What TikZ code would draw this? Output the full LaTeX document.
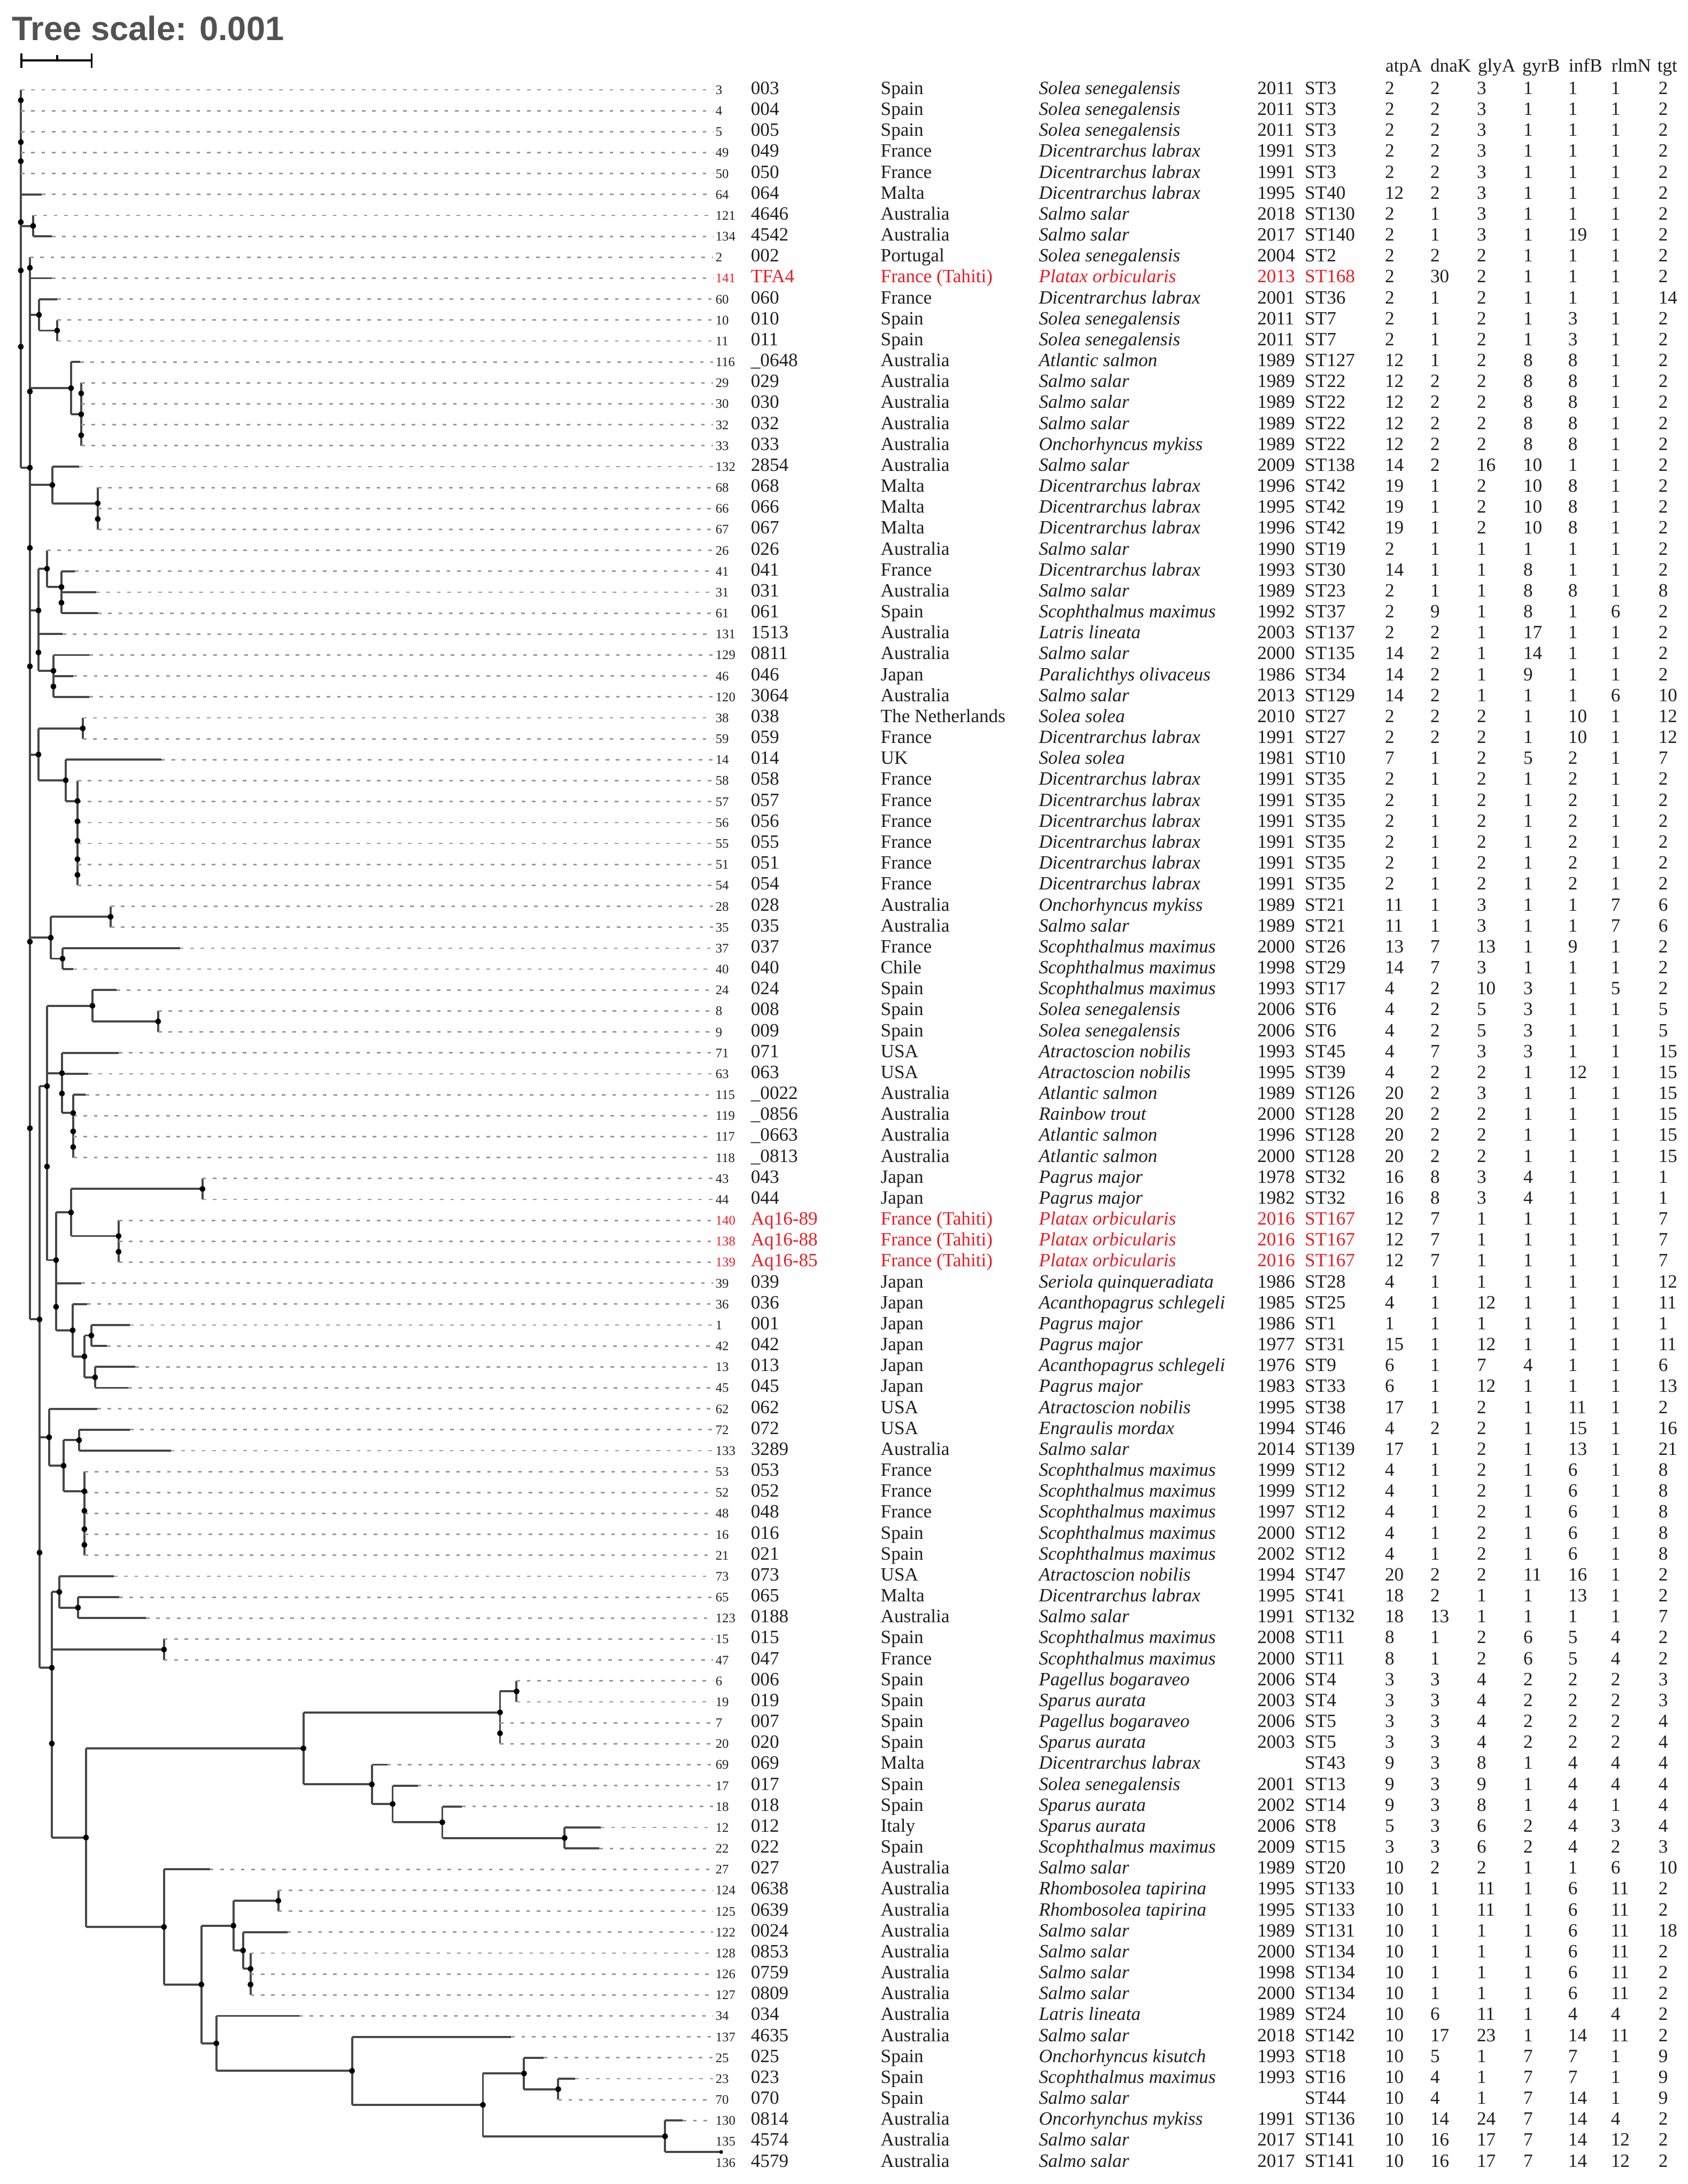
\documentclass[tikz,border=0pt]{standalone}
\usepackage{fontspec}
\setmainfont{Liberation Serif}
\newfontfamily\titlefont{Liberation Sans}
\definecolor{ck}{gray}{0.12}
\definecolor{cr}{RGB}{235,28,36}
\tikzset{
  br/.style={draw=black!72, line width=1.1pt},
  brv/.style={draw=black!72, line width=1.1pt, line cap=square},
  dsh/.style={draw=black!40, line width=0.8pt, dash pattern=on 1.9pt off 3.6pt},
  tiplab/.style={anchor=base west, inner sep=0pt, font=\fontsize{7}{8}\selectfont},
  cell/.style={anchor=base west, inner sep=0pt, font=\fontsize{10}{12}\selectfont},
  sbar/.style={draw=black, line width=0.9pt},
}
\begin{document}
\begin{tikzpicture}[x=0.01cm, y=-0.3917cm]
\useasboundingbox (0,-3.289) rectangle (3159,101.03);

% title and scale bar
\node[anchor=base west, inner sep=0pt, text=black!68, font=\titlefont\bfseries\fontsize{18}{20}\selectfont] (title) at (22,-1.374) {Tree scale: 0.001};
\coordinate (sbL) at (40,-0.404);
\coordinate (sbR) at (172,-0.404);
\draw[sbar] (sbL) -- (sbR);
\draw[sbar] (40,-0.736) -- (40,-0.047);
\draw[sbar] (172,-0.736) -- (172,-0.047);
\draw[sbar] (107,-0.66) -- (sbL -| 107,0);

% vertical lines of internal nodes
\foreach \x/\a/\b in {39/1/19.05, 56/9/59.73, 62/7/8, 73/11/12.5, 107/12/13, 133/14/16.5, 152/15/18, 98/19/20.75, 183/20/22, 72/23.875/28.75, 88/23/24.75, 115/24/26, 100/28/30, 72/31.5/33.98, 155/31/32, 123/33/34.97, 145/34/39, 95/40.5/42.5, 207/40/41, 117/42/43, 88/44.75/56.9, 173/44/45.5, 296/45/46, 116/47/49.875, 137/49/52, 74/48.59/76.37, 105/54.625/60.25, 133/53.5/55.75, 379/53/54, 222/55/57, 136/59/61.5, 158/60.5/62.5, 171/60/61, 178/62/63, 92/64/66.72, 119/65.5/67.94, 148/65/66, 158/67/71, 97/72.75/84.48, 111/72/73.5, 146/73/74, 307/75/76, 161/80.22/88.75, 568/78.5/81.94, 936/77.5/80, 967/77/78, 696/81/82.875, 735/82/83.75, 828/83/84.5, 1057/84/85, 307/86/91.5, 377/88.69/94.31, 437/87.5/89.875, 521/87/88, 455/89/90.75, 469/90/92, 405/93/95.625, 659/94/97.25, 904/95.75/98.75, 981/95/96.5, 1045/96/97, 1245/98/99.5}
  {\draw[brv] (\x,\a) -- (\x,\b);}

% horizontal lines to internal nodes
\foreach \r/\a/\b in {7.5/39/62, 11.75/56/73, 12.5/73/107, 15.25/56/133, 16.5/133/152, 19.05/39/56, 19.875/56/98, 20.75/98/183, 23.875/72/88, 24.75/88/115, 25.87/56/72, 28.75/72/100, 31.5/72/155, 32.75/56/72, 33.98/72/123, 34.97/123/145, 41.5/56/95, 40.5/95/207, 42.5/95/117, 44.75/88/173, 45.5/173/296, 47.97/88/116, 49.875/116/137, 48.59/74/88, 59.73/56/74, 56.9/88/105, 54.625/105/133, 53.5/133/379, 55.75/133/222, 60.25/105/136, 61.5/136/158, 60.5/158/171, 62.5/158/178, 65.36/74/92, 66.72/92/119, 65.5/119/148, 67.94/119/158, 76.37/74/97, 72.75/97/111, 73.5/111/146, 75.5/97/307, 84.48/97/161, 80.22/161/568, 78.5/568/936, 77.5/936/967, 81.94/568/696, 82.875/696/735, 83.75/735/828, 84.5/828/1057, 88.75/161/307, 91.5/307/377, 88.69/377/437, 87.5/437/521, 89.875/437/455, 90.75/455/469, 94.31/377/405, 95.625/405/659, 97.25/659/904, 95.75/904/981, 96.5/981/1045, 98.75/904/1245, 99.5/1245/1350}
  {\draw[br] (\a,\r) -- (\b,\r);}

% leaves: solid branch then dashed guide line
\foreach \rw/\px/\ex in {1/39/39, 2/39/39, 3/39/39, 4/39/39, 5/39/39, 6/39/78, 7/62/62, 8/62/97, 9/56/56, 10/56/97, 11/73/107, 12/107/107, 13/107/107, 14/133/150, 15/152/152, 16/152/152, 17/152/152, 18/152/152, 19/98/148, 20/183/183, 21/183/183, 22/183/183, 23/88/88, 24/115/140, 25/115/180, 26/115/183, 27/72/117, 28/100/167, 29/100/137, 30/100/167, 31/155/155, 32/155/155, 33/123/302, 34/145/145, 35/145/145, 36/145/145, 37/145/145, 38/145/145, 39/145/145, 40/207/207, 41/207/207, 42/117/337, 43/117/137, 44/173/218, 45/296/296, 46/296/296, 47/116/222, 48/116/165, 49/137/160, 50/137/137, 51/137/137, 52/137/137, 53/379/379, 54/379/379, 55/222/222, 56/222/222, 57/222/222, 58/105/152, 59/136/163, 60/171/243, 61/171/200, 62/178/253, 63/178/240, 64/92/182, 65/148/243, 66/148/320, 67/158/158, 68/158/158, 69/158/158, 70/158/158, 71/158/158, 72/111/213, 73/146/223, 74/146/273, 75/307/307, 76/307/307, 77/967/967, 78/967/967, 79/936/936, 80/936/936, 81/696/725, 82/735/782, 83/828/865, 84/1057/1125, 85/1057/1122, 86/307/393, 87/521/521, 88/521/521, 89/455/538, 90/469/469, 91/469/469, 92/469/469, 93/405/560, 94/659/957, 95/981/1018, 96/1045/1077, 97/1045/1045, 98/1245/1278}
  {\draw[br] (\px,\rw) -- (\ex,\rw);
   \draw[dsh] (\ex,\rw) -- (1335,\rw);}

% node dots
\foreach \x/\r in {39/1.5, 39/3.5, 39/4.41, 39/7.32, 39/9.63, 39/13.27, 56/9.5, 56/15.41, 56/19.05, 56/22.88, 56/28.54, 56/41.69, 56/50.6, 62/7.5, 73/11.75, 107/12.5, 133/15.25, 152/15.5, 152/16.5, 152/17.5, 98/19.875, 183/20.75, 183/21.5, 72/25.87, 72/27.875, 88/23.875, 115/24.75, 115/25.5, 100/28.75, 100/29.5, 72/32.75, 155/31.5, 123/33.98, 145/34.97, 145/35.94, 145/36.875, 145/37.75, 145/38.5, 95/41.5, 207/40.5, 117/42.5, 173/44.75, 296/45.5, 116/47.97, 116/48.94, 137/49.875, 137/50.75, 137/51.5, 88/48.59, 88/52.43, 74/59.73, 74/70.87, 105/56.9, 105/59.13, 133/54.625, 379/53.5, 222/55.75, 222/56.5, 136/60.25, 158/61.5, 171/60.5, 178/62.5, 92/65.36, 119/66.72, 148/65.5, 158/67.94, 158/68.875, 158/69.75, 158/70.5, 97/76.37, 97/79.99, 111/72.75, 146/73.5, 307/75.5, 161/84.48, 568/80.22, 936/78.5, 936/79.5, 967/77.5, 696/81.94, 735/82.875, 828/83.75, 1057/84.5, 307/88.75, 377/91.5, 437/88.69, 521/87.5, 455/89.875, 469/90.75, 469/91.5, 405/94.31, 659/95.625, 904/97.25, 981/95.75, 1045/96.5, 1245/98.75}
  {\fill[black] (\x,\r) circle[radius=0.055cm];}
\fill[black] (1350,99.5) circle[radius=0.035cm];

% column headers
\foreach \hx/\hname in {2593/atpA, 2677/dnaK, 2766/glyA, 2849/gyrB, 2936/infB, 3016/rlmN, 3102/tgt}
  {\node[cell, text=ck] (h\hname) at (\hx,0.14) {\hname};}

% table rows
\foreach \rw/\tp/\ida/\cty/\spc/\yr/\stt/\va/\vb/\vc/\vd/\ve/\vf/\vg/\col in {
1/3/003/Spain/Solea senegalensis/2011/ST3/2/2/3/1/1/1/2/k,
2/4/004/Spain/Solea senegalensis/2011/ST3/2/2/3/1/1/1/2/k,
3/5/005/Spain/Solea senegalensis/2011/ST3/2/2/3/1/1/1/2/k,
4/49/049/France/Dicentrarchus labrax/1991/ST3/2/2/3/1/1/1/2/k,
5/50/050/France/Dicentrarchus labrax/1991/ST3/2/2/3/1/1/1/2/k,
6/64/064/Malta/Dicentrarchus labrax/1995/ST40/12/2/3/1/1/1/2/k,
7/121/4646/Australia/Salmo salar/2018/ST130/2/1/3/1/1/1/2/k,
8/134/4542/Australia/Salmo salar/2017/ST140/2/1/3/1/19/1/2/k,
9/2/002/Portugal/Solea senegalensis/2004/ST2/2/2/2/1/1/1/2/k,
10/141/TFA4/France (Tahiti)/Platax orbicularis/2013/ST168/2/30/2/1/1/1/2/r,
11/60/060/France/Dicentrarchus labrax/2001/ST36/2/1/2/1/1/1/14/k,
12/10/010/Spain/Solea senegalensis/2011/ST7/2/1/2/1/3/1/2/k,
13/11/011/Spain/Solea senegalensis/2011/ST7/2/1/2/1/3/1/2/k,
14/116/\_0648/Australia/Atlantic salmon/1989/ST127/12/1/2/8/8/1/2/k,
15/29/029/Australia/Salmo salar/1989/ST22/12/2/2/8/8/1/2/k,
16/30/030/Australia/Salmo salar/1989/ST22/12/2/2/8/8/1/2/k,
17/32/032/Australia/Salmo salar/1989/ST22/12/2/2/8/8/1/2/k,
18/33/033/Australia/Onchorhyncus mykiss/1989/ST22/12/2/2/8/8/1/2/k,
19/132/2854/Australia/Salmo salar/2009/ST138/14/2/16/10/1/1/2/k,
20/68/068/Malta/Dicentrarchus labrax/1996/ST42/19/1/2/10/8/1/2/k,
21/66/066/Malta/Dicentrarchus labrax/1995/ST42/19/1/2/10/8/1/2/k,
22/67/067/Malta/Dicentrarchus labrax/1996/ST42/19/1/2/10/8/1/2/k,
23/26/026/Australia/Salmo salar/1990/ST19/2/1/1/1/1/1/2/k,
24/41/041/France/Dicentrarchus labrax/1993/ST30/14/1/1/8/1/1/2/k,
25/31/031/Australia/Salmo salar/1989/ST23/2/1/1/8/8/1/8/k,
26/61/061/Spain/Scophthalmus maximus/1992/ST37/2/9/1/8/1/6/2/k,
27/131/1513/Australia/Latris lineata/2003/ST137/2/2/1/17/1/1/2/k,
28/129/0811/Australia/Salmo salar/2000/ST135/14/2/1/14/1/1/2/k,
29/46/046/Japan/Paralichthys olivaceus/1986/ST34/14/2/1/9/1/1/2/k,
30/120/3064/Australia/Salmo salar/2013/ST129/14/2/1/1/1/6/10/k,
31/38/038/The Netherlands/Solea solea/2010/ST27/2/2/2/1/10/1/12/k,
32/59/059/France/Dicentrarchus labrax/1991/ST27/2/2/2/1/10/1/12/k,
33/14/014/UK/Solea solea/1981/ST10/7/1/2/5/2/1/7/k,
34/58/058/France/Dicentrarchus labrax/1991/ST35/2/1/2/1/2/1/2/k,
35/57/057/France/Dicentrarchus labrax/1991/ST35/2/1/2/1/2/1/2/k,
36/56/056/France/Dicentrarchus labrax/1991/ST35/2/1/2/1/2/1/2/k,
37/55/055/France/Dicentrarchus labrax/1991/ST35/2/1/2/1/2/1/2/k,
38/51/051/France/Dicentrarchus labrax/1991/ST35/2/1/2/1/2/1/2/k,
39/54/054/France/Dicentrarchus labrax/1991/ST35/2/1/2/1/2/1/2/k,
40/28/028/Australia/Onchorhyncus mykiss/1989/ST21/11/1/3/1/1/7/6/k,
41/35/035/Australia/Salmo salar/1989/ST21/11/1/3/1/1/7/6/k,
42/37/037/France/Scophthalmus maximus/2000/ST26/13/7/13/1/9/1/2/k,
43/40/040/Chile/Scophthalmus maximus/1998/ST29/14/7/3/1/1/1/2/k,
44/24/024/Spain/Scophthalmus maximus/1993/ST17/4/2/10/3/1/5/2/k,
45/8/008/Spain/Solea senegalensis/2006/ST6/4/2/5/3/1/1/5/k,
46/9/009/Spain/Solea senegalensis/2006/ST6/4/2/5/3/1/1/5/k,
47/71/071/USA/Atractoscion nobilis/1993/ST45/4/7/3/3/1/1/15/k,
48/63/063/USA/Atractoscion nobilis/1995/ST39/4/2/2/1/12/1/15/k,
49/115/\_0022/Australia/Atlantic salmon/1989/ST126/20/2/3/1/1/1/15/k,
50/119/\_0856/Australia/Rainbow trout/2000/ST128/20/2/2/1/1/1/15/k,
51/117/\_0663/Australia/Atlantic salmon/1996/ST128/20/2/2/1/1/1/15/k,
52/118/\_0813/Australia/Atlantic salmon/2000/ST128/20/2/2/1/1/1/15/k,
53/43/043/Japan/Pagrus major/1978/ST32/16/8/3/4/1/1/1/k,
54/44/044/Japan/Pagrus major/1982/ST32/16/8/3/4/1/1/1/k,
55/140/Aq16-89/France (Tahiti)/Platax orbicularis/2016/ST167/12/7/1/1/1/1/7/r,
56/138/Aq16-88/France (Tahiti)/Platax orbicularis/2016/ST167/12/7/1/1/1/1/7/r,
57/139/Aq16-85/France (Tahiti)/Platax orbicularis/2016/ST167/12/7/1/1/1/1/7/r,
58/39/039/Japan/Seriola quinqueradiata/1986/ST28/4/1/1/1/1/1/12/k,
59/36/036/Japan/Acanthopagrus schlegeli/1985/ST25/4/1/12/1/1/1/11/k,
60/1/001/Japan/Pagrus major/1986/ST1/1/1/1/1/1/1/1/k,
61/42/042/Japan/Pagrus major/1977/ST31/15/1/12/1/1/1/11/k,
62/13/013/Japan/Acanthopagrus schlegeli/1976/ST9/6/1/7/4/1/1/6/k,
63/45/045/Japan/Pagrus major/1983/ST33/6/1/12/1/1/1/13/k,
64/62/062/USA/Atractoscion nobilis/1995/ST38/17/1/2/1/11/1/2/k,
65/72/072/USA/Engraulis mordax/1994/ST46/4/2/2/1/15/1/16/k,
66/133/3289/Australia/Salmo salar/2014/ST139/17/1/2/1/13/1/21/k,
67/53/053/France/Scophthalmus maximus/1999/ST12/4/1/2/1/6/1/8/k,
68/52/052/France/Scophthalmus maximus/1999/ST12/4/1/2/1/6/1/8/k,
69/48/048/France/Scophthalmus maximus/1997/ST12/4/1/2/1/6/1/8/k,
70/16/016/Spain/Scophthalmus maximus/2000/ST12/4/1/2/1/6/1/8/k,
71/21/021/Spain/Scophthalmus maximus/2002/ST12/4/1/2/1/6/1/8/k,
72/73/073/USA/Atractoscion nobilis/1994/ST47/20/2/2/11/16/1/2/k,
73/65/065/Malta/Dicentrarchus labrax/1995/ST41/18/2/1/1/13/1/2/k,
74/123/0188/Australia/Salmo salar/1991/ST132/18/13/1/1/1/1/7/k,
75/15/015/Spain/Scophthalmus maximus/2008/ST11/8/1/2/6/5/4/2/k,
76/47/047/France/Scophthalmus maximus/2000/ST11/8/1/2/6/5/4/2/k,
77/6/006/Spain/Pagellus bogaraveo/2006/ST4/3/3/4/2/2/2/3/k,
78/19/019/Spain/Sparus aurata/2003/ST4/3/3/4/2/2/2/3/k,
79/7/007/Spain/Pagellus bogaraveo/2006/ST5/3/3/4/2/2/2/4/k,
80/20/020/Spain/Sparus aurata/2003/ST5/3/3/4/2/2/2/4/k,
81/69/069/Malta/Dicentrarchus labrax//ST43/9/3/8/1/4/4/4/k,
82/17/017/Spain/Solea senegalensis/2001/ST13/9/3/9/1/4/4/4/k,
83/18/018/Spain/Sparus aurata/2002/ST14/9/3/8/1/4/1/4/k,
84/12/012/Italy/Sparus aurata/2006/ST8/5/3/6/2/4/3/4/k,
85/22/022/Spain/Scophthalmus maximus/2009/ST15/3/3/6/2/4/2/3/k,
86/27/027/Australia/Salmo salar/1989/ST20/10/2/2/1/1/6/10/k,
87/124/0638/Australia/Rhombosolea tapirina/1995/ST133/10/1/11/1/6/11/2/k,
88/125/0639/Australia/Rhombosolea tapirina/1995/ST133/10/1/11/1/6/11/2/k,
89/122/0024/Australia/Salmo salar/1989/ST131/10/1/1/1/6/11/18/k,
90/128/0853/Australia/Salmo salar/2000/ST134/10/1/1/1/6/11/2/k,
91/126/0759/Australia/Salmo salar/1998/ST134/10/1/1/1/6/11/2/k,
92/127/0809/Australia/Salmo salar/2000/ST134/10/1/1/1/6/11/2/k,
93/34/034/Australia/Latris lineata/1989/ST24/10/6/11/1/4/4/2/k,
94/137/4635/Australia/Salmo salar/2018/ST142/10/17/23/1/14/11/2/k,
95/25/025/Spain/Onchorhyncus kisutch/1993/ST18/10/5/1/7/7/1/9/k,
96/23/023/Spain/Scophthalmus maximus/1993/ST16/10/4/1/7/7/1/9/k,
97/70/070/Spain/Salmo salar//ST44/10/4/1/7/14/1/9/k,
98/130/0814/Australia/Oncorhynchus mykiss/1991/ST136/10/14/24/7/14/4/2/k,
99/135/4574/Australia/Salmo salar/2017/ST141/10/16/17/7/14/12/2/k,
100/136/4579/Australia/Salmo salar/2017/ST141/10/16/17/7/14/12/2/k}
{
  \node[tiplab, text=c\col] (tip\rw) at (1339,\rw+0.215) {\tp};
  \node[cell, text=c\col] (id\rw) at (1405,\rw+0.215) {\ida};
  \node[cell, text=c\col] (cty\rw) at (1648,\rw+0.215) {\cty};
  \node[cell, text=c\col] (sp\rw) at (1944,\rw+0.215) {\textit{\spc}};
  \node[cell, text=c\col] (yr\rw) at (2353,\rw+0.215) {\yr};
  \node[cell, text=c\col] (st\rw) at (2442,\rw+0.215) {\stt};
  \node[cell, text=ck] (a\rw) at (2592,\rw+0.215) {\va};
  \node[cell, text=ck] (b\rw) at (2677,\rw+0.215) {\vb};
  \node[cell, text=ck] (c\rw) at (2764,\rw+0.215) {\vc};
  \node[cell, text=ck] (d\rw) at (2851,\rw+0.215) {\vd};
  \node[cell, text=ck] (e\rw) at (2935,\rw+0.215) {\ve};
  \node[cell, text=ck] (f\rw) at (3015,\rw+0.215) {\vf};
  \node[cell, text=ck] (g\rw) at (3104,\rw+0.215) {\vg};
}
\end{tikzpicture}
\end{document}
